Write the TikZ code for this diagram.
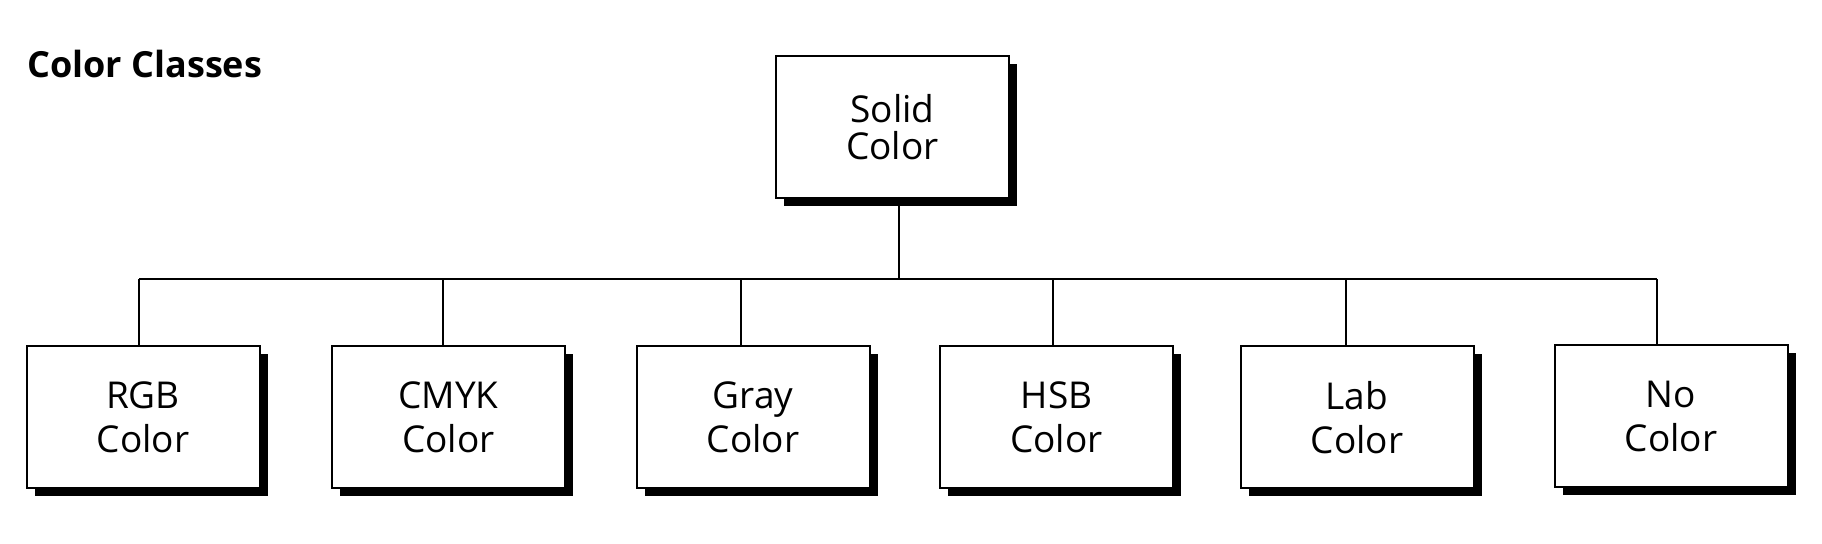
\documentclass[tikz,border=0pt]{standalone}
\usepackage{fontspec}
\setmainfont{Open Sans}
\usetikzlibrary{shadows}

\begin{document}
\begin{tikzpicture}[
  x=0.5pt, y=-0.5pt,
  classbox/.style={rectangle, draw=black, line width=1pt, fill=white, inner sep=0pt, outer sep=0pt,
    minimum width=116.5pt, minimum height=71pt, align=center,
    font=\fontsize{18.5}{22}\selectfont,
    drop shadow={shadow xshift=4pt, shadow yshift=-4pt, fill=black, opacity=1}},
  link/.style={line width=0.75pt}
]
\useasboundingbox (0,0) rectangle (1822,544);

% Title
\node[anchor=base west, inner sep=0pt, font=\fontsize{18}{21}\bfseries] (title) at (27,78) {Color Classes};

% Root
\node[classbox, font=\fontsize{18.5}{18.5}\selectfont] (solid) at (892.5,127.5) {Solid\\Color};

% Children
\node[classbox] (rgb)  at (143,417.5)  {RGB\\Color};
\node[classbox] (cmyk) at (448.5,417.5) {CMYK\\Color};
\node[classbox] (gray) at (753,417.5)  {Gray\\Color};
\node[classbox] (hsb)  at (1056.5,417.5) {HSB\\Color};
\node[classbox] (lab)  at (1357,417.5) {Lab\\Color};
\node[classbox] (none) at (1671,416.5) {No\\Color};

% Tree lines
\coordinate (barL) at (139,279);
\coordinate (barR) at (1657,279);
\draw[link] ([xshift=3.25pt]solid.south) -- ([xshift=3.25pt]solid.south |- barL);
\draw[link] (barL) -- (barR);
\foreach \n/\dx in {rgb/-2, cmyk/-2.75, gray/-6, hsb/-1.75, lab/-5.5, none/-7}
  \draw[link] ([xshift=\dx pt]\n.north) -- ([xshift=\dx pt]\n.north |- barL);

\end{tikzpicture}
\end{document}
